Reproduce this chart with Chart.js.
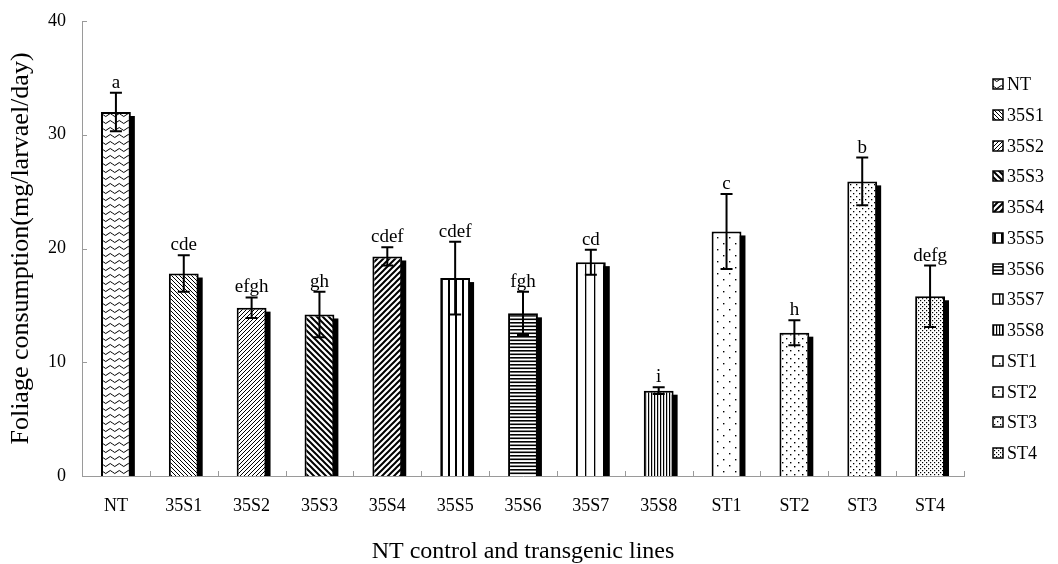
<!DOCTYPE html>
<html>
<head>
<meta charset="utf-8">
<title>Foliage consumption</title>
<script src="https://cdn.jsdelivr.net/npm/chart.js@4.4.0/dist/chart.umd.min.js"></script>
<style>
html, body { margin: 0; padding: 0; background: #fff; }
#wrap { width: 1058px; height: 564px; }
</style>
</head>
<body>
<div id="wrap"><canvas id="foliageChart" width="1058" height="564"></canvas></div>
<script>
// Data dari grafik
const lines = ['NT', '35S1', '35S2', '35S3', '35S4', '35S5', '35S6', '35S7', '35S8', 'ST1', 'ST2', 'ST3', 'ST4'];
const consumption = [32.0, 17.8, 14.8, 14.2, 19.3, 17.4, 14.3, 18.8, 7.5, 21.5, 12.6, 25.9, 15.8];
const stdError = [1.7, 1.6, 0.9, 2.0, 0.8, 3.2, 1.9, 1.1, 0.3, 3.3, 1.1, 2.1, 2.7];
const letters = ['a', 'cde', 'efgh', 'gh', 'cdef', 'cdef', 'fgh', 'cd', 'i', 'c', 'h', 'b', 'defg'];
const yTicks = [0, 10, 20, 30, 40];

const serif = "'Liberation Serif', 'Times New Roman', serif";
const axisGray = '#9a9a9a';

// Membuat pola isi (hitam putih) untuk tiap batang
function makeTile(w, h, draw) {
    const c = document.createElement('canvas');
    c.width = w;
    c.height = h;
    const g = c.getContext('2d');
    g.fillStyle = '#fff';
    g.fillRect(0, 0, w, h);
    g.fillStyle = '#000';
    g.strokeStyle = '#000';
    draw(g, w, h);
    return document.createElement('canvas').getContext('2d').createPattern(c, 'repeat');
}

function diag(dir, s, lw) {
    return makeTile(s, s, (g) => {
        g.lineWidth = lw;
        g.beginPath();
        if (dir === 'down') {
            g.moveTo(-1, -1); g.lineTo(s + 1, s + 1);
            g.moveTo(-1, s - 1); g.lineTo(1, s + 1);
            g.moveTo(s - 1, -1); g.lineTo(s + 1, 1);
        } else {
            g.moveTo(-1, s + 1); g.lineTo(s + 1, -1);
            g.moveTo(-1, 1); g.lineTo(1, -1);
            g.moveTo(s - 1, s + 1); g.lineTo(s + 1, s - 1);
        }
        g.stroke();
    });
}

function vlines(w, lw) {
    return makeTile(w, 4, (g, tw, th) => g.fillRect(0, 0, lw, th));
}

function dots(w, h, pts, size) {
    return makeTile(w, h, (g) => pts.forEach(p => g.fillRect(p[0], p[1], size, size)));
}

const patterns = [
    makeTile(9, 7, (g) => {
        g.lineWidth = 1;
        g.beginPath();
        g.moveTo(0, 3);
        g.quadraticCurveTo(2.25, 0, 4.5, 3);
        g.quadraticCurveTo(6.75, 6, 9, 3);
        g.stroke();
    }),
    diag('down', 4, 1),
    diag('up', 4, 1),
    diag('down', 6, 2),
    diag('up', 6, 2),
    vlines(7, 2),
    makeTile(4, 7, (g) => { g.fillRect(0, 0, 4, 1.6); g.fillRect(0, 3.5, 4, 1.6); }),
    vlines(9, 1.3),
    vlines(3, 1.2),
    dots(12, 12, [[3, 3], [9, 9]], 1.4),
    dots(8, 8, [[2, 2], [6, 6]], 1.4),
    dots(6, 6, [[1, 1], [4, 4]], 1.3),
    dots(4, 4, [[0, 0], [2, 2]], 1.2)
];

// Plugin: bayangan hitam di belakang batang
const shadowPlugin = {
    id: 'barShadow',
    beforeDatasetsDraw(chart) {
        const ctx = chart.ctx;
        const meta = chart.getDatasetMeta(0);
        ctx.save();
        ctx.fillStyle = '#000';
        meta.data.forEach(bar => {
            const p = bar.getProps(['x', 'y', 'base', 'width'], true);
            ctx.fillRect(p.x - p.width / 2 + 4, p.y + 4, p.width, p.base - p.y - 4);
        });
        ctx.restore();
    }
};

// Plugin: error bar, huruf signifikansi, dan tick ke dalam
const errorPlugin = {
    id: 'errorBars',
    afterDatasetsDraw(chart) {
        const ctx = chart.ctx;
        const yScale = chart.scales.y;
        const xScale = chart.scales.x;
        const meta = chart.getDatasetMeta(0);
        const area = chart.chartArea;
        ctx.save();
        ctx.strokeStyle = '#000';
        ctx.fillStyle = '#000';
        ctx.lineWidth = 2;
        meta.data.forEach((bar, i) => {
            const x = bar.x;
            const top = yScale.getPixelForValue(consumption[i] + stdError[i]);
            const bot = yScale.getPixelForValue(consumption[i] - stdError[i]);
            ctx.beginPath();
            ctx.moveTo(x, top); ctx.lineTo(x, bot);
            ctx.moveTo(x - 6, top); ctx.lineTo(x + 6, top);
            ctx.moveTo(x - 6, bot); ctx.lineTo(x + 6, bot);
            ctx.stroke();
            ctx.font = '19px ' + serif;
            ctx.textAlign = 'center';
            ctx.textBaseline = 'alphabetic';
            ctx.fillText(letters[i], x, top - 5);
        });

        // tick kecil ke arah dalam
        ctx.strokeStyle = axisGray;
        ctx.lineWidth = 1;
        ctx.beginPath();
        yTicks.forEach(v => {
            const py = Math.round(yScale.getPixelForValue(v)) + 0.5;
            ctx.moveTo(area.left, py); ctx.lineTo(area.left + 5, py);
        });
        const half = (xScale.getPixelForValue(1) - xScale.getPixelForValue(0)) / 2;
        for (let i = 0; i <= lines.length; i++) {
            const px = Math.round(xScale.getPixelForValue(i) - half) + 0.5;
            ctx.moveTo(px, area.bottom); ctx.lineTo(px, area.bottom - 5);
        }
        ctx.stroke();
        ctx.restore();
    }
};

// Plugin: legenda di sisi kanan (kotak pola + nama)
const legendPlugin = {
    id: 'patternLegend',
    afterDraw(chart) {
        const ctx = chart.ctx;
        const x0 = chart.chartArea.right + 29;
        const y0 = 84;
        const step = 30.75;
        ctx.save();
        ctx.font = '18px ' + serif;
        ctx.textAlign = 'left';
        ctx.textBaseline = 'middle';
        lines.forEach((name, i) => {
            const cy = Math.round(y0 + i * step);
            ctx.fillStyle = patterns[i];
            ctx.fillRect(x0, cy - 5, 10, 10);
            ctx.strokeStyle = '#000';
            ctx.lineWidth = 1.5;
            ctx.strokeRect(x0, cy - 5, 10, 10);
            ctx.fillStyle = '#000';
            ctx.fillText(name, x0 + 14, cy + 1);
        });
        ctx.restore();
    }
};

const ctx = document.getElementById('foliageChart').getContext('2d');
const foliageChart = new Chart(ctx, {
    type: 'bar',
    data: {
        labels: lines,
        datasets: [{
            label: 'Foliage consumption',
            data: consumption,
            backgroundColor: patterns,
            borderColor: '#000',
            borderWidth: 2,
            barPercentage: 0.44,
            categoryPercentage: 1.0
        }]
    },
    options: {
        responsive: false,
        animation: false,
        devicePixelRatio: 1,
        layout: { padding: { top: 21, right: 94, left: 0, bottom: 0 } },
        plugins: {
            tooltip: { enabled: false },
            legend: { display: false }
        },
        scales: {
            x: {
                offset: true,
                grid: { display: false, drawTicks: false },
                border: { display: true, color: axisGray, width: 1 },
                ticks: { color: '#000', font: { family: serif, size: 18 }, padding: 19 },
                title: {
                    display: true,
                    text: 'NT control and transgenic lines',
                    color: '#000',
                    font: { family: serif, size: 24, lineHeight: 1 },
                    padding: { top: 0, bottom: 0 }
                },
                afterFit(scale) { scale.height = 88; }
            },
            y: {
                min: 0,
                max: 40,
                grid: { display: false, drawTicks: false },
                border: { display: true, color: axisGray, width: 1 },
                ticks: { stepSize: 10, color: '#000', font: { family: serif, size: 18 }, padding: 16 },
                title: {
                    display: true,
                    text: 'Foliage consumption(mg/larvael/day)',
                    color: '#000',
                    font: { family: serif, size: 26, lineHeight: 1 },
                    padding: { top: 8, bottom: 0 }
                },
                afterFit(scale) {
                    scale.width = 82;
                    scale.paddingTop = 0;
                    scale.paddingBottom = 0;
                }
            }
        }
    },
    plugins: [shadowPlugin, errorPlugin, legendPlugin]
});
</script>
</body>
</html>
